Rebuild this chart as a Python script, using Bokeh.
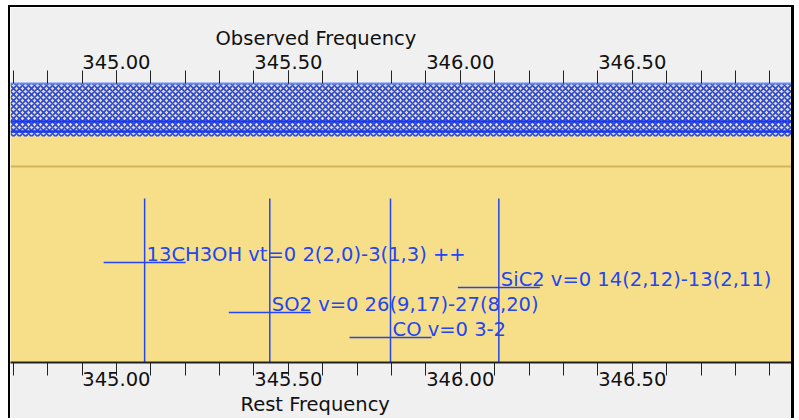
from bokeh.plotting import figure
from bokeh.models import (Range1d, LinearAxis, FixedTicker, NumeralTickFormatter,
                          BoxAnnotation, Span, Title)
from bokeh.embed import file_html
from bokeh.resources import INLINE
from bokeh.core.properties import value

# ---- data ----
labels = ["13CH3OH vt=0 2(2,0)-3(1,3) ++",
          "SO2 v=0 26(9,17)-27(8,20)",
          "CO v=0 3-2",
          "SiC2 v=0 14(2,12)-13(2,11)"]
freqs = [345.082, 345.446, 345.797, 346.112]          # GHz
label_rows = [3, 1, 0, 2]                              # stacking row of each label
major_ticks = [345.0, 345.5, 346.0, 346.5, 347.0]
minor_ticks = [344.7, 344.8, 344.9, 345.0, 345.1, 345.2, 345.3, 345.4, 345.5,
               345.6, 345.7, 345.8, 345.9, 346.0, 346.1, 346.2, 346.3, 346.4,
               346.5, 346.6, 346.7, 346.8, 346.9]
x_start, x_end = 344.692, 346.963
top_title = "Observed Frequency"
bottom_title = "Rest Frequency"

# ---- styling ----
FONT = "DejaVu Sans"
FS = "19.5px"
BLUE = "#2346f0"
YELLOW = "#f7df8a"
GRAY = "#f0f0f0"
INK = "#111111"
ROW_STEP = 25
LINE_TOP = 164

p = figure(width=786, height=413, output_backend="svg", toolbar_location=None,
           x_range=Range1d(x_start, x_end), y_range=Range1d(0, 279),
           x_axis_location=None, y_axis_location=None,
           min_border_left=0, min_border_right=5, min_border_top=76,
           min_border_bottom=58)
p.title.visible = False
p.styles = {"border-left": "2px solid black", "border-right": "3px solid black",
            "border-top": "2px solid black", "margin-top": "5px",
            "margin-left": "8px"}
p.background_fill_color = YELLOW
p.border_fill_color = GRAY
p.outline_line_color = None
p.grid.visible = False

# hatched observed band
p.add_layout(BoxAnnotation(bottom=226, top=279, fill_color=YELLOW, fill_alpha=1,
                           hatch_pattern="x", hatch_color=BLUE, hatch_scale=6,
                           hatch_weight=1.6, line_color=None, level="underlay"))
p.add_layout(Span(location=241, dimension="width", line_color="#1838f0", line_width=2.5))
p.add_layout(Span(location=231, dimension="width", line_color="#1838f0", line_width=2.5))
p.add_layout(Span(location=196, dimension="width", line_color="#d6b65c", line_width=2))

row_y = [ROW_STEP * (r + 1) for r in label_rows]

p.segment(x0=freqs, y0=[0] * len(freqs), x1=freqs, y1=[LINE_TOP] * len(freqs),
          line_color=BLUE, line_width=1.5)
p.scatter(x=freqs, y=row_y, marker="dash", size=82, line_color=BLUE, line_width=1.5)
p.text(x=freqs, y=row_y, text=labels, x_offset=2, y_offset=-8, text_align="left",
       text_baseline="alphabetic", text_font=value(FONT), text_font_size=FS,
       text_color=BLUE)


def make_axis(line_color, standoff):
    ax = LinearAxis(ticker=FixedTicker(ticks=major_ticks, minor_ticks=minor_ticks),
                    formatter=NumeralTickFormatter(format="0.00"))
    ax.major_tick_out = 13
    ax.major_tick_in = 0
    ax.minor_tick_out = 13
    ax.minor_tick_in = 0
    ax.major_tick_line_color = "#222222"
    ax.minor_tick_line_color = "#222222"
    ax.axis_line_color = line_color
    ax.axis_line_width = 2
    ax.major_label_text_font = FONT
    ax.major_label_text_font_size = FS
    ax.major_label_text_color = INK
    ax.major_label_standoff = standoff
    return ax


def make_title(text, shift, standoff):
    # axis titles are set left of the plot centre, as in the reference
    return Title(text=text, align="left", offset=shift, standoff=standoff,
                 text_font=FONT, text_font_size=FS, text_font_style="normal",
                 text_color=INK)


p.add_layout(make_axis("#6a8cf2", 2), "above")
p.add_layout(make_title(top_title, 205, 3), "above")
p.add_layout(make_axis("#222222", -4), "below")
p.add_layout(make_title(bottom_title, 230, 4), "below")

open("out.html", "w").write(file_html(p, INLINE))
